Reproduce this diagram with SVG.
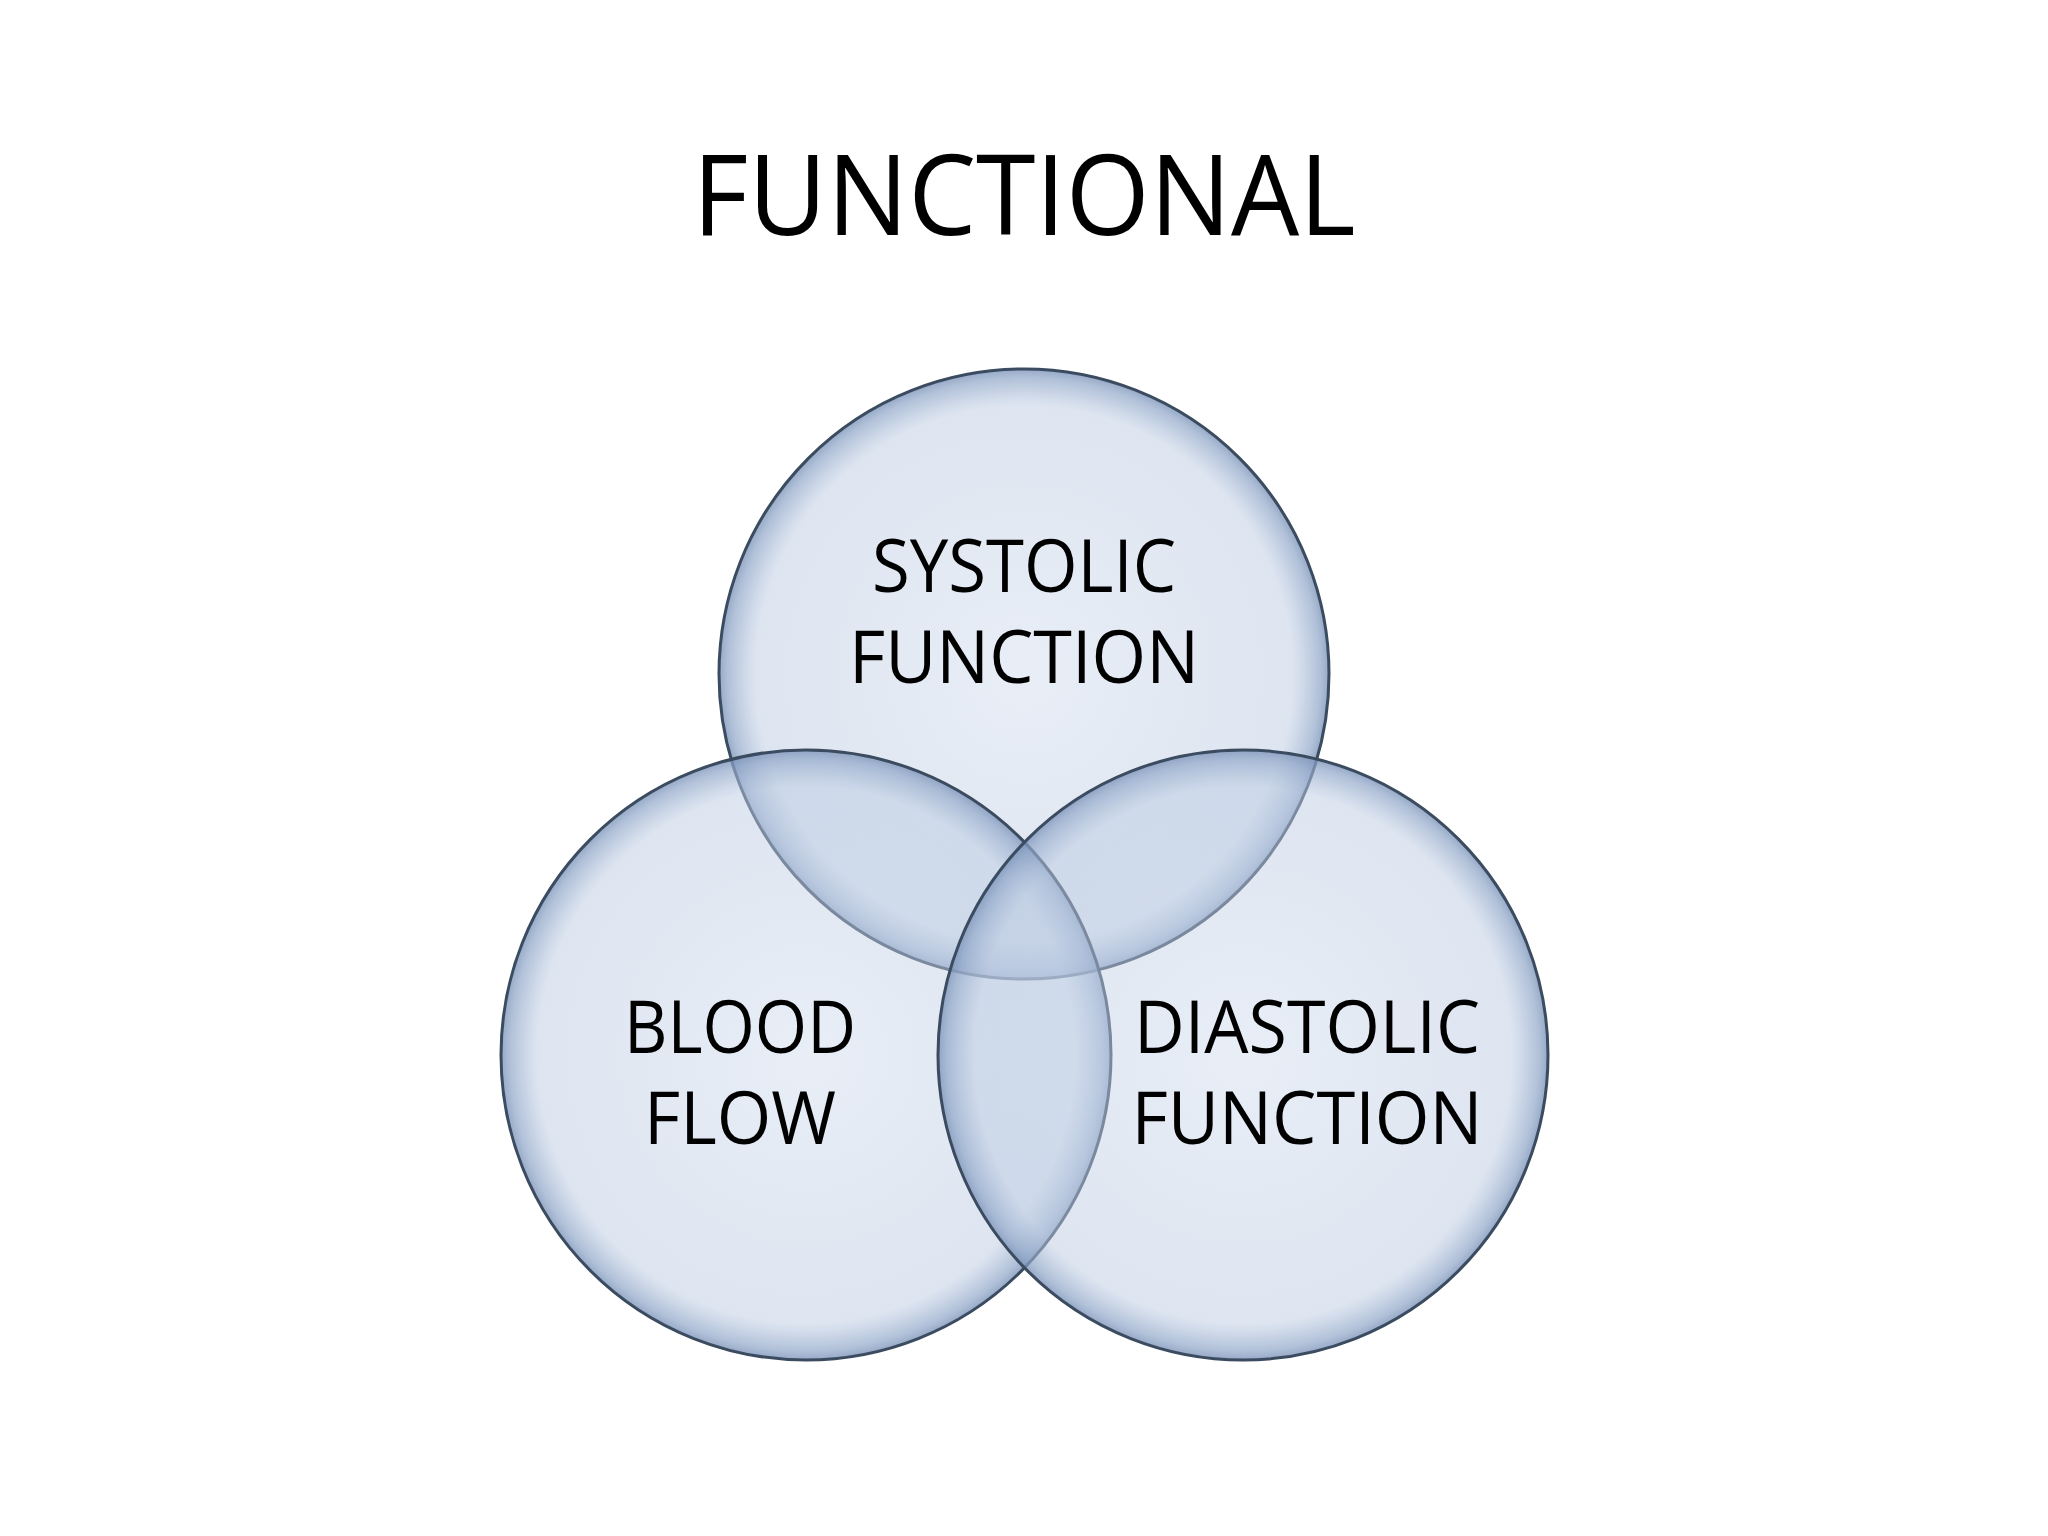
<svg xmlns="http://www.w3.org/2000/svg" width="2048" height="1536" viewBox="0 0 2048 1536">
<defs>
<radialGradient id="g" cx="50%" cy="50%" r="50%">
<stop offset="0" stop-color="#c9d6ea" stop-opacity="0.42"/>
<stop offset="0.88" stop-color="#bccbe2" stop-opacity="0.5"/>
<stop offset="0.97" stop-color="#8fa6c8" stop-opacity="0.7"/>
<stop offset="1" stop-color="#7b93b8" stop-opacity="0.8"/>
</radialGradient>
<style>
.c{fill:url(#g);stroke:#3b4b60;stroke-width:3}
.t{font-family:"Open Sans","Liberation Sans",sans-serif;fill:#000;text-anchor:middle}
.l{font-size:74px}
</style>
</defs>
<rect width="2048" height="1536" fill="#fff"/>
<text class="t" x="1024" y="235" font-size="112" textLength="663" lengthAdjust="spacingAndGlyphs">FUNCTIONAL</text>
<g id="systolic"><circle class="c" cx="1024" cy="674" r="305"/></g>
<g id="blood"><circle class="c" cx="806" cy="1055" r="305"/></g>
<g id="diastolic"><circle class="c" cx="1243" cy="1055" r="305"/></g>
<g id="labels">
<text class="t l" x="1024" y="592" textLength="304" lengthAdjust="spacingAndGlyphs">SYSTOLIC</text>
<text class="t l" x="1024" y="683" textLength="350" lengthAdjust="spacingAndGlyphs">FUNCTION</text>
<text class="t l" x="740" y="1053" textLength="232" lengthAdjust="spacingAndGlyphs">BLOOD</text>
<text class="t l" x="740" y="1144" textLength="192" lengthAdjust="spacingAndGlyphs">FLOW</text>
<text class="t l" x="1307" y="1053" textLength="346" lengthAdjust="spacingAndGlyphs">DIASTOLIC</text>
<text class="t l" x="1307" y="1144" textLength="351" lengthAdjust="spacingAndGlyphs">FUNCTION</text>
</g>
<g id="connectors"/>
</svg>
